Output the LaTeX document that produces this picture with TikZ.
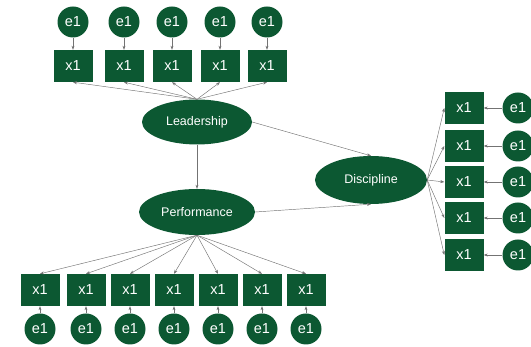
\documentclass[tikz,border=0pt]{standalone}
\usepackage{fontspec}
\setmainfont{Liberation Sans}
\usetikzlibrary{shapes,positioning,arrows.meta}

\definecolor{semgreen}{RGB}{12,88,50}

\begin{document}
\begin{tikzpicture}[x=1pt, y=-1pt]

        % page size of the reference
        \useasboundingbox (0,0) rectangle (531,347);

        % Styles for the latent variables, the items and the errors
        \tikzset{
            latent/.style={ellipse, fill=semgreen, text=white,
                font=\fontsize{12.5}{13}\selectfont, inner sep=0pt},
            item/.style={rectangle, fill=semgreen, text=white,
                minimum width=39pt, minimum height=32pt,
                font=\fontsize{14.5}{15}\selectfont, inner sep=0pt},
            err/.style={circle, fill=semgreen, text=white,
                minimum size=31pt, font=\fontsize{14.5}{15}\selectfont,
                inner sep=0pt},
            path/.style={draw=black!55, line width=0.45pt,
                -{Stealth[length=4pt, width=3pt]}}
        }

        % Latent variables
        \begin{scope}
            \node[latent, minimum width=110pt, minimum height=45pt]
            (L) at (197, 122) {Leadership};
            \node[latent, minimum width=116pt, minimum height=46pt]
            (P) at (197, 212) {Performance};
            \node[latent, minimum width=112pt, minimum height=48pt]
            (D) at (371, 180) {Discipline};
        \end{scope}

        % Items of Leadership
        \begin{scope}
            \node[item] (LX1) at (73, 66) {x1};
            \node[item] (LX2) at (124, 66) {x1};
            \node[item] (LX3) at (172, 66) {x1};
            \node[item] (LX4) at (220, 66) {x1};
            \node[item] (LX5) at (267, 66) {x1};
            \node[err] (LE1) at (73, 22) {e1};
            \node[err] (LE2) at (124, 22) {e1};
            \node[err] (LE3) at (172, 22) {e1};
            \node[err] (LE4) at (220, 22) {e1};
            \node[err] (LE5) at (267, 22) {e1};
        \end{scope}

        % Items of Discipline
        \begin{scope}
            \node[item] (DX1) at (464, 108) {x1};
            \node[item] (DX2) at (464, 146) {x1};
            \node[item] (DX3) at (464, 182) {x1};
            \node[item] (DX4) at (464, 218) {x1};
            \node[item] (DX5) at (464, 255) {x1};
            \node[err] (DE1) at (518, 108) {e1};
            \node[err] (DE2) at (518, 146) {e1};
            \node[err] (DE3) at (518, 182) {e1};
            \node[err] (DE4) at (518, 218) {e1};
            \node[err] (DE5) at (518, 255) {e1};
        \end{scope}

        % Items of Performance
        \begin{scope}
            \node[item] (PX1) at (40, 290) {x1};
            \node[item] (PX2) at (86, 290) {x1};
            \node[item] (PX3) at (130, 290) {x1};
            \node[item] (PX4) at (174, 290) {x1};
            \node[item] (PX5) at (218, 290) {x1};
            \node[item] (PX6) at (262, 290) {x1};
            \node[item] (PX7) at (306, 290) {x1};
            \node[err] (PE1) at (40, 329) {e1};
            \node[err] (PE2) at (86, 329) {e1};
            \node[err] (PE3) at (130, 329) {e1};
            \node[err] (PE4) at (174, 329) {e1};
            \node[err] (PE5) at (218, 329) {e1};
            \node[err] (PE6) at (262, 329) {e1};
            \node[err] (PE7) at (306, 329) {e1};
        \end{scope}

        % Structural paths
        \begin{scope}
            \draw[path] (L) -- (P);
            \draw[path] (L.east) -- (D.north);
            \draw[path] (P.east) -- (D.south);
        \end{scope}

        % Loadings
        \begin{scope}
            \draw[path] (L.north) -- (LX1.south);
            \draw[path] (L.north) -- (LX2.south);
            \draw[path] (L.north) -- (LX3.south);
            \draw[path] (L.north) -- (LX4.south);
            \draw[path] (L.north) -- (LX5.south);
            \draw[path] (D.east) -- (DX1.west);
            \draw[path] (D.east) -- (DX2.west);
            \draw[path] (D.east) -- (DX3.west);
            \draw[path] (D.east) -- (DX4.west);
            \draw[path] (D.east) -- (DX5.west);
            \draw[path] (P.south) -- (PX1.north);
            \draw[path] (P.south) -- (PX2.north);
            \draw[path] (P.south) -- (PX3.north);
            \draw[path] (P.south) -- (PX4.north);
            \draw[path] (P.south) -- (PX5.north);
            \draw[path] (P.south) -- (PX6.north);
            \draw[path] (P.south) -- (PX7.north);
        \end{scope}

        % Errors
        \begin{scope}
            \draw[path] (LE1) -- (LX1);
            \draw[path] (LE2) -- (LX2);
            \draw[path] (LE3) -- (LX3);
            \draw[path] (LE4) -- (LX4);
            \draw[path] (LE5) -- (LX5);
            \draw[path] (DE1) -- (DX1);
            \draw[path] (DE2) -- (DX2);
            \draw[path] (DE3) -- (DX3);
            \draw[path] (DE4) -- (DX4);
            \draw[path] (DE5) -- (DX5);
            \draw[path] (PE1) -- (PX1);
            \draw[path] (PE2) -- (PX2);
            \draw[path] (PE3) -- (PX3);
            \draw[path] (PE4) -- (PX4);
            \draw[path] (PE5) -- (PX5);
            \draw[path] (PE6) -- (PX6);
            \draw[path] (PE7) -- (PX7);
        \end{scope}

\end{tikzpicture}
\end{document}
